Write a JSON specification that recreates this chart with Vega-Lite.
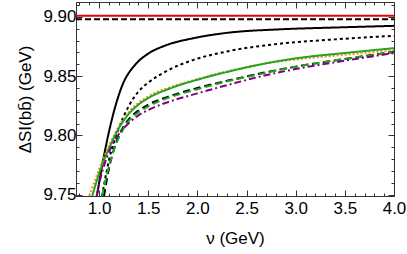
{
  "$schema": "https://vega.github.io/schema/vega-lite/v6.json",
  "width": 318,
  "height": 194,
  "autosize": "none",
  "padding": {"left": 76, "top": 2, "right": 13, "bottom": 58},
  "config": {
    "view": {"stroke": "#333", "strokeWidth": 1},
    "axis": {"labelFont": "Liberation Sans", "titleFont": "Liberation Sans", "labelColor": "#000", "titleColor": "#000", "labelFontSize": 17, "titleFontSize": 17, "titleFontWeight": "normal", "domainColor": "#333", "tickColor": "#333", "grid": false}
  },
  "datasets": {
    "curves": [
      {"s": "red", "x": 0.765, "y": 9.901}, {"s": "red", "x": 4.0, "y": 9.901},
      {"s": "flat", "x": 0.765, "y": 9.898}, {"s": "flat", "x": 4.0, "y": 9.898},
      {"s": "bsolid", "x": 0.977, "y": 9.749}, {"s": "bsolid", "x": 1.0, "y": 9.760}, {"s": "bsolid", "x": 1.05, "y": 9.783}, {"s": "bsolid", "x": 1.1, "y": 9.803}, {"s": "bsolid", "x": 1.15, "y": 9.820}, {"s": "bsolid", "x": 1.2, "y": 9.834}, {"s": "bsolid", "x": 1.25, "y": 9.845}, {"s": "bsolid", "x": 1.3, "y": 9.8525}, {"s": "bsolid", "x": 1.35, "y": 9.858}, {"s": "bsolid", "x": 1.4, "y": 9.8625}, {"s": "bsolid", "x": 1.5, "y": 9.869}, {"s": "bsolid", "x": 1.68, "y": 9.876}, {"s": "bsolid", "x": 1.96, "y": 9.882}, {"s": "bsolid", "x": 2.3, "y": 9.8865}, {"s": "bsolid", "x": 2.85, "y": 9.8895}, {"s": "bsolid", "x": 3.4, "y": 9.891}, {"s": "bsolid", "x": 4.0, "y": 9.8924},
      {"s": "bdot", "x": 1.03, "y": 9.749}, {"s": "bdot", "x": 1.1, "y": 9.779}, {"s": "bdot", "x": 1.2, "y": 9.806}, {"s": "bdot", "x": 1.3, "y": 9.8245}, {"s": "bdot", "x": 1.4, "y": 9.837}, {"s": "bdot", "x": 1.5, "y": 9.8445}, {"s": "bdot", "x": 1.68, "y": 9.854}, {"s": "bdot", "x": 1.96, "y": 9.8637}, {"s": "bdot", "x": 2.3, "y": 9.8708}, {"s": "bdot", "x": 2.8, "y": 9.877}, {"s": "bdot", "x": 3.4, "y": 9.881}, {"s": "bdot", "x": 4.0, "y": 9.884},
      {"s": "orange", "x": 0.90, "y": 9.749}, {"s": "orange", "x": 1.0, "y": 9.7715}, {"s": "orange", "x": 1.1, "y": 9.7915}, {"s": "orange", "x": 1.2, "y": 9.8075}, {"s": "orange", "x": 1.316, "y": 9.821}, {"s": "orange", "x": 1.4, "y": 9.8275}, {"s": "orange", "x": 1.5, "y": 9.833}, {"s": "orange", "x": 1.75, "y": 9.8415}, {"s": "orange", "x": 2.0, "y": 9.8475}, {"s": "orange", "x": 2.35, "y": 9.855}, {"s": "orange", "x": 2.68, "y": 9.8605}, {"s": "orange", "x": 3.0, "y": 9.864}, {"s": "orange", "x": 3.5, "y": 9.868}, {"s": "orange", "x": 4.0, "y": 9.8718},
      {"s": "green", "x": 0.93, "y": 9.749}, {"s": "green", "x": 1.0, "y": 9.768}, {"s": "green", "x": 1.1, "y": 9.789}, {"s": "green", "x": 1.2, "y": 9.806}, {"s": "green", "x": 1.316, "y": 9.8195}, {"s": "green", "x": 1.4, "y": 9.826}, {"s": "green", "x": 1.5, "y": 9.8315}, {"s": "green", "x": 1.75, "y": 9.8405}, {"s": "green", "x": 2.0, "y": 9.847}, {"s": "green", "x": 2.35, "y": 9.8545}, {"s": "green", "x": 2.68, "y": 9.8605}, {"s": "green", "x": 3.0, "y": 9.865}, {"s": "green", "x": 3.5, "y": 9.8695}, {"s": "green", "x": 4.0, "y": 9.8736},
      {"s": "bdash", "x": 1.05, "y": 9.749}, {"s": "bdash", "x": 1.1, "y": 9.772}, {"s": "bdash", "x": 1.15, "y": 9.788}, {"s": "bdash", "x": 1.2, "y": 9.7995}, {"s": "bdash", "x": 1.25, "y": 9.8075}, {"s": "bdash", "x": 1.316, "y": 9.815}, {"s": "bdash", "x": 1.4, "y": 9.821}, {"s": "bdash", "x": 1.5, "y": 9.826}, {"s": "bdash", "x": 1.75, "y": 9.834}, {"s": "bdash", "x": 2.0, "y": 9.840}, {"s": "bdash", "x": 2.35, "y": 9.847}, {"s": "bdash", "x": 2.68, "y": 9.853}, {"s": "bdash", "x": 3.0, "y": 9.858}, {"s": "bdash", "x": 3.5, "y": 9.8645}, {"s": "bdash", "x": 4.0, "y": 9.8705},
      {"s": "gdash", "x": 1.03, "y": 9.749}, {"s": "gdash", "x": 1.1, "y": 9.774}, {"s": "gdash", "x": 1.15, "y": 9.7875}, {"s": "gdash", "x": 1.2, "y": 9.798}, {"s": "gdash", "x": 1.25, "y": 9.806}, {"s": "gdash", "x": 1.316, "y": 9.8135}, {"s": "gdash", "x": 1.4, "y": 9.8195}, {"s": "gdash", "x": 1.5, "y": 9.8245}, {"s": "gdash", "x": 1.75, "y": 9.833}, {"s": "gdash", "x": 2.0, "y": 9.839}, {"s": "gdash", "x": 2.35, "y": 9.8465}, {"s": "gdash", "x": 2.68, "y": 9.8525}, {"s": "gdash", "x": 3.0, "y": 9.858}, {"s": "gdash", "x": 3.5, "y": 9.8645}, {"s": "gdash", "x": 4.0, "y": 9.870},
      {"s": "purple", "x": 0.975, "y": 9.749}, {"s": "purple", "x": 1.0, "y": 9.759}, {"s": "purple", "x": 1.05, "y": 9.7745}, {"s": "purple", "x": 1.1, "y": 9.786}, {"s": "purple", "x": 1.15, "y": 9.7945}, {"s": "purple", "x": 1.2, "y": 9.801}, {"s": "purple", "x": 1.316, "y": 9.8115}, {"s": "purple", "x": 1.4, "y": 9.817}, {"s": "purple", "x": 1.5, "y": 9.8215}, {"s": "purple", "x": 1.75, "y": 9.8295}, {"s": "purple", "x": 2.0, "y": 9.8355}, {"s": "purple", "x": 2.35, "y": 9.8435}, {"s": "purple", "x": 2.68, "y": 9.8505}, {"s": "purple", "x": 3.0, "y": 9.856}, {"s": "purple", "x": 3.5, "y": 9.863}, {"s": "purple", "x": 4.0, "y": 9.8695}
    ]
  },
  "data": {"name": "curves"},
  "layer": [
    {
      "mark": {"type": "line", "clip": true, "interpolate": "monotone"},
      "encoding": {
        "x": {"field": "x", "type": "quantitative", "scale": {"domain": [0.765, 4.0], "nice": false, "zero": false},
          "axis": {"title": "ν (GeV)", "orient": "bottom", "titlePadding": 11,
            "values": [0.8,0.9,1.0,1.1,1.2,1.3,1.4,1.5,1.6,1.7,1.8,1.9,2.0,2.1,2.2,2.3,2.4,2.5,2.6,2.7,2.8,2.9,3.0,3.1,3.2,3.3,3.4,3.5,3.6,3.7,3.8,3.9,4.0],
            "labelExpr": "abs(datum.value*2 - round(datum.value*2)) < 0.01 ? format(datum.value, '.1f') : ''",
            "labelOverlap": false, "labelFlush": false, "labelPadding": 10,
            "tickSize": {"condition": {"test": "abs(datum.value*2 - round(datum.value*2)) < 0.01", "value": -6}, "value": -3}}},
        "y": {"field": "y", "type": "quantitative", "scale": {"domain": [9.749, 9.9125], "nice": false, "zero": false},
          "axis": {"title": "ΔSI(bb̄) (GeV)", "orient": "left", "titlePadding": 8,
            "values": [9.75,9.76,9.77,9.78,9.79,9.8,9.81,9.82,9.83,9.84,9.85,9.86,9.87,9.88,9.89,9.9,9.91],
            "labelExpr": "abs(datum.value*20 - round(datum.value*20)) < 0.01 ? format(datum.value, '.2f') : ''",
            "labelOverlap": false, "labelFlush": false, "labelPadding": 6,
            "tickSize": {"condition": {"test": "abs(datum.value*20 - round(datum.value*20)) < 0.01", "value": -6}, "value": -3}}},
        "color": {"field": "s", "type": "nominal", "legend": null,
          "scale": {"domain": ["red","flat","bsolid","bdot","orange","green","bdash","gdash","purple"], "range": ["#f00000","#000000","#000000","#000000","#ff8c1a","#1fa51f","#000000","#1fa51f","#800080"]}},
        "strokeDash": {"field": "s", "type": "nominal", "legend": null,
          "scale": {"domain": ["red","flat","bsolid","bdot","orange","green","bdash","gdash","purple"], "range": [[1,0],[6,3],[1,0],[3,3],[2,2],[1,0],[7,4],[7,4],[7,3,2,3]]}},
        "strokeWidth": {"field": "s", "type": "nominal", "legend": null,
          "scale": {"domain": ["red","flat","bsolid","bdot","orange","green","bdash","gdash","purple"], "range": [2,2,2,2.5,3,2,2.5,2.5,2.5]}}
      }
    },
    {
      "mark": {"type": "rule", "opacity": 0},
      "encoding": {
        "x": {"field": "x", "type": "quantitative", "aggregate": "min",
          "axis": {"title": null, "orient": "top", "labels": false, "domain": false,
            "values": [0.8,0.9,1.0,1.1,1.2,1.3,1.4,1.5,1.6,1.7,1.8,1.9,2.0,2.1,2.2,2.3,2.4,2.5,2.6,2.7,2.8,2.9,3.0,3.1,3.2,3.3,3.4,3.5,3.6,3.7,3.8,3.9,4.0],
            "tickSize": {"condition": {"test": "abs(datum.value*2 - round(datum.value*2)) < 0.01", "value": -6}, "value": -3}}},
        "y": {"field": "y", "type": "quantitative", "aggregate": "min",
          "axis": {"title": null, "orient": "right", "labels": false, "domain": false,
            "values": [9.75,9.76,9.77,9.78,9.79,9.8,9.81,9.82,9.83,9.84,9.85,9.86,9.87,9.88,9.89,9.9,9.91],
            "tickSize": {"condition": {"test": "abs(datum.value*20 - round(datum.value*20)) < 0.01", "value": -6}, "value": -3}}}
      }
    }
  ],
  "resolve": {"axis": {"x": "independent", "y": "independent"}}
}
